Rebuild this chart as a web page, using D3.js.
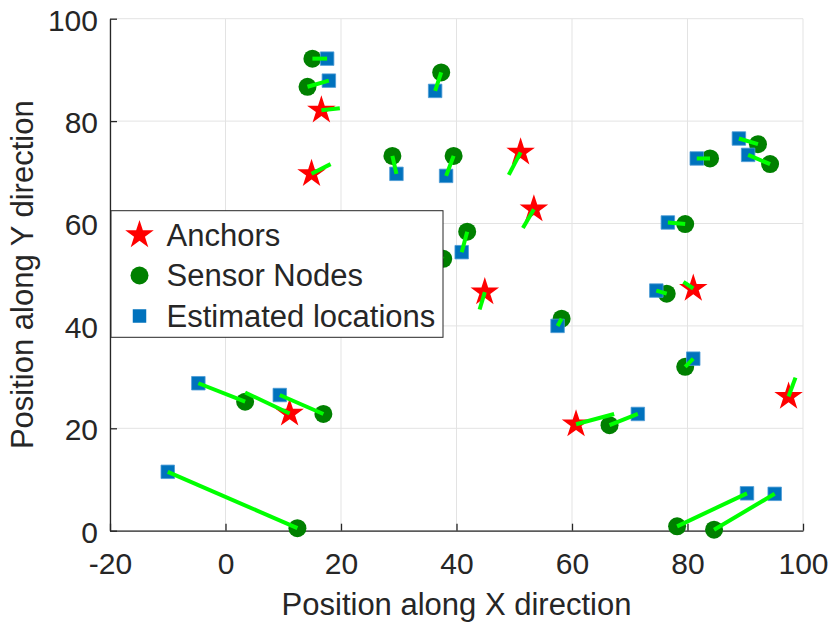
<!DOCTYPE html>
<html>
<head>
<meta charset="utf-8">
<script src="https://cdn.jsdelivr.net/npm/d3@7"></script>
<style>
  body { margin: 0; background: #fff; }
  text { font-family: "Liberation Sans", Arial, sans-serif; fill: #262626; }
</style>
</head>
<body>
<div id="chart"></div>
<script>
// Anchor positions and the end of their green error segment
const anchorX = [16.6, 14.9, 51.1, 53.4, 44.9, 81.0, 97.5, 11.1, 60.7];
const anchorY = [82.1, 69.7, 73.9, 62.8, 46.6, 47.3, 26.2, 22.9, 20.8];
const anchorEndX = [19.8, 18.2, 49.05, 51.5, 44.0, 79.3, 98.7, 3.4, 67.3];
const anchorEndY = [82.5, 71.6, 69.5, 59.1, 43.2, 48.6, 29.9, 27.0, 22.8];

// Sensor nodes (true positions)
const nodeX = [15.05, 14.2, 37.35, 28.9, 39.5, 41.85, 37.7, 58.2, 79.6, 83.9, 92.2, 94.3, 76.4, 79.6, 3.4, 16.95, 12.45, 66.5, 78.2, 84.6];
const nodeY = [92.2, 86.7, 89.5, 73.2, 73.2, 58.4, 53.1, 41.4, 59.9, 72.7, 75.5, 71.6, 46.3, 32.0, 25.2, 22.8, 0.5, 20.6, 0.85, 0.2];

// Estimated locations
const estX = [17.6, 17.9, 36.3, 29.6, 38.2, 40.9, 34.5, 57.5, 76.6, 81.6, 88.9, 90.5, 74.6, 81.0, -4.7, 9.4, -10.0, 71.4, 90.3, 95.1];
const estY = [92.2, 87.9, 85.9, 69.7, 69.3, 54.4, 55.5, 40.0, 60.2, 72.7, 76.6, 73.4, 46.9, 33.6, 28.8, 26.5, 11.5, 22.8, 7.3, 7.2];

const xTicks = [-20, 0, 20, 40, 60, 80, 100];
const yTicks = [0, 20, 40, 60, 80, 100];
const legendLabels = ["Anchors", "Sensor Nodes", "Estimated locations"];

const W = 830, H = 623;
const margin = {top: 18.7, right: 27, bottom: 92.3, left: 110},
    width = W - margin.left - margin.right,
    height = H - margin.top - margin.bottom;

const svg = d3.select("#chart").append("svg")
    .attr("width", W)
    .attr("height", H);

const g = svg.append("g")
    .attr("transform", "translate(" + margin.left + "," + margin.top + ")");

const x = d3.scaleLinear().domain([-20, 100]).range([0, width]);
const y = d3.scaleLinear().domain([0, 100]).range([height, 0]);

// Grid
g.append("g").selectAll("line")
    .data(xTicks)
  .enter().append("line")
    .attr("x1", d => x(d)).attr("x2", d => x(d))
    .attr("y1", 0).attr("y2", height)
    .style("stroke", "#e3e3e3").style("stroke-width", 1);
g.append("g").selectAll("line")
    .data(yTicks)
  .enter().append("line")
    .attr("x1", 0).attr("x2", width)
    .attr("y1", d => y(d)).attr("y2", d => y(d))
    .style("stroke", "#e3e3e3").style("stroke-width", 1);

// Axes (plain hyphen for negatives, like the original)
const fmt = d => String(d);
const xAxis = g.append("g")
    .attr("transform", "translate(0," + height + ")")
    .call(d3.axisBottom(x).tickValues(xTicks).tickFormat(fmt)
      .tickSizeInner(-7).tickSizeOuter(0).tickPadding(22));
const yAxis = g.append("g")
    .call(d3.axisLeft(y).tickValues(yTicks).tickFormat(fmt)
      .tickSizeInner(-7).tickSizeOuter(0).tickPadding(12));

[xAxis, yAxis].forEach(a => {
  a.select(".domain").style("stroke", "#262626").style("stroke-width", 1.3);
  a.selectAll(".tick line").style("stroke", "#262626").style("stroke-width", 1.3);
  a.selectAll(".tick text")
    .style("font-size", "30px")
    .style("font-family", "'Liberation Sans', Arial, sans-serif")
    .style("fill", "#262626");
});
yAxis.selectAll(".tick text").attr("dy", "0.38em");

// Axis titles
svg.append("text")
    .attr("x", margin.left + width / 2)
    .attr("y", 615)
    .attr("text-anchor", "middle")
    .style("font-size", "31px")
    .text("Position along X direction");
svg.append("text")
    .attr("transform", "translate(33," + (margin.top + height / 2) + ") rotate(-90)")
    .attr("text-anchor", "middle")
    .style("font-size", "31px")
    .text("Position along Y direction");

// Markers
const starR = 15;
const star = d3.symbol().type(d3.symbolStar).size(starR * starR / 0.8908130915);
const circ = d3.symbol().type(d3.symbolCircle).size(Math.PI * 9 * 9);
const sq = d3.symbol().type(d3.symbolSquare).size(13.5 * 13.5);

g.append("g").selectAll("path")
    .data(anchorX)
  .enter().append("path")
    .attr("d", star)
    .attr("transform", (d, i) => "translate(" + x(d) + "," + y(anchorY[i]) + ")")
    .style("fill", "#ff0000");

g.append("g").selectAll("path")
    .data(nodeX)
  .enter().append("path")
    .attr("d", circ)
    .attr("transform", (d, i) => "translate(" + x(d) + "," + y(nodeY[i]) + ")")
    .style("fill", "#008000");

g.append("g").selectAll("path")
    .data(estX)
  .enter().append("path")
    .attr("d", sq)
    .attr("transform", (d, i) => "translate(" + x(d) + "," + y(estY[i]) + ")")
    .style("fill", "#0072bd")
    .style("stroke", "#4c9bd6")
    .style("stroke-width", 0.8);

// Error segments
const segs = g.append("g");
segs.selectAll(".aseg")
    .data(anchorX)
  .enter().append("line")
    .attr("x1", d => x(d))
    .attr("y1", (d, i) => y(anchorY[i]))
    .attr("x2", (d, i) => x(anchorEndX[i]))
    .attr("y2", (d, i) => y(anchorEndY[i]))
    .style("stroke", "#00ff00").style("stroke-width", 4);
segs.selectAll(".nseg")
    .data(nodeX)
  .enter().append("line")
    .attr("x1", d => x(d))
    .attr("y1", (d, i) => y(nodeY[i]))
    .attr("x2", (d, i) => x(estX[i]))
    .attr("y2", (d, i) => y(estY[i]))
    .style("stroke", "#00ff00").style("stroke-width", 4);

// Legend
const legend = svg.append("g");
legend.append("rect")
    .attr("x", 111).attr("y", 210.7)
    .attr("width", 332).attr("height", 126.6)
    .style("fill", "#fff").style("stroke", "#262626").style("stroke-width", 1);

const legendSymbols = [star, circ, sq];
const legendColors = ["#ff0000", "#008000", "#0072bd"];
const rows = legend.selectAll(".row")
    .data(legendLabels)
  .enter().append("g")
    .attr("transform", (d, i) => "translate(0," + (i * 40.5) + ")");
rows.append("path")
    .attr("d", (d, i) => legendSymbols[i]())
    .attr("transform", "translate(139.5,235)")
    .style("fill", (d, i) => legendColors[i]);
rows.append("text")
    .attr("x", 166.5)
    .attr("y", 245.5)
    .style("font-size", "31px")
    .text(d => d);
</script>
</body>
</html>
